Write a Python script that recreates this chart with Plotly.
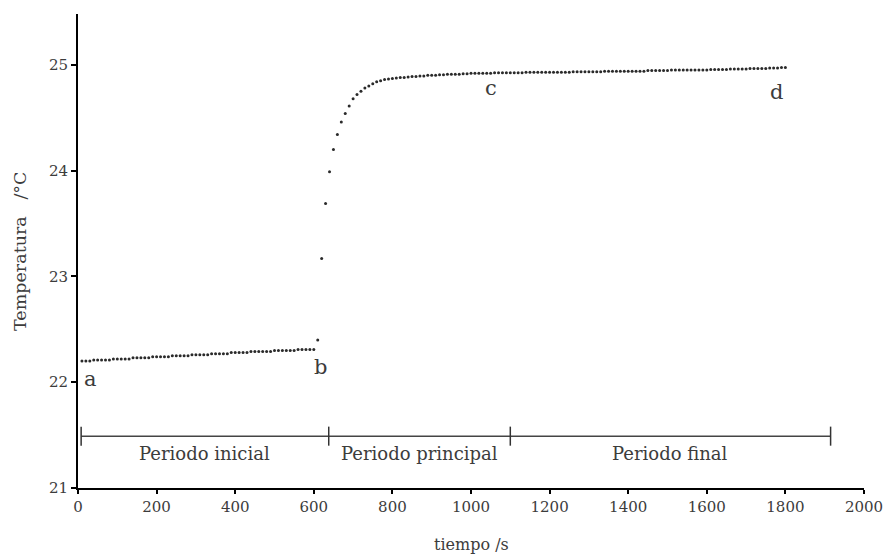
import numpy as np
import plotly.graph_objects as go

# sampling times (s), every 10 s
time_s = np.arange(10, 1810, 10)

temp_initial = [
    22.20, 22.20, 22.20, 22.21, 22.21, 22.21, 22.21, 22.21, 22.22, 22.22,
    22.22, 22.22, 22.22, 22.23, 22.23, 22.23, 22.23, 22.23, 22.24, 22.24,
    22.24, 22.24, 22.24, 22.25, 22.25, 22.25, 22.25, 22.25, 22.26, 22.26,
    22.26, 22.26, 22.26, 22.27, 22.27, 22.27, 22.27, 22.27, 22.28, 22.28,
    22.28, 22.28, 22.28, 22.29, 22.29, 22.29, 22.29, 22.29, 22.29, 22.30,
    22.30, 22.30, 22.30, 22.30, 22.30, 22.31, 22.31, 22.31, 22.31, 22.31,
]
temp_rise = [
    22.40, 23.17, 23.69, 23.99, 24.20, 24.34, 24.46, 24.54, 24.61, 24.68,
    24.72, 24.75, 24.78, 24.80, 24.82, 24.84, 24.85,
]
temp_approach = [
    24.86, 24.865, 24.87, 24.875, 24.88, 24.88, 24.885, 24.89, 24.89, 24.895,
    24.895, 24.90, 24.90, 24.90, 24.905, 24.905, 24.91, 24.91, 24.91, 24.91,
    24.915, 24.915, 24.92,
]
temp_final = [
    24.92, 24.92, 24.92, 24.92, 24.92, 24.925, 24.925, 24.925, 24.925, 24.925,
    24.925, 24.925, 24.925, 24.93, 24.93, 24.93, 24.93, 24.93, 24.93, 24.93,
    24.93, 24.93, 24.93, 24.93, 24.93, 24.935, 24.935, 24.935, 24.935, 24.935,
    24.935, 24.935, 24.935, 24.94, 24.94, 24.94, 24.94, 24.94, 24.94, 24.94,
    24.94, 24.94, 24.94, 24.94, 24.945, 24.945, 24.945, 24.945, 24.945, 24.945,
    24.95, 24.95, 24.95, 24.95, 24.95, 24.95, 24.95, 24.95, 24.95, 24.95,
    24.955, 24.955, 24.955, 24.955, 24.955, 24.96, 24.96, 24.96, 24.96, 24.96,
    24.965, 24.965, 24.965, 24.965, 24.965, 24.97, 24.97, 24.97, 24.975, 24.975,
]
temperature = temp_initial + temp_rise + temp_approach + temp_final

# period boundaries (s) and bar level (°C)
period_bounds = [8, 638, 1100, 1915]
period_names = ["Periodo inicial", "Periodo principal", "Periodo final"]
period_level = 21.49

point_labels = ["a", "b", "c", "d"]
point_label_x = [31, 618, 1051, 1778]
point_label_y = [22.03, 22.14, 24.78, 24.74]

x_ticks = [0, 200, 400, 600, 800, 1000, 1200, 1400, 1600, 1800, 2000]
y_ticks = [21, 22, 23, 24, 25]

FONT = "DejaVu Serif"
TXT = "#3c3c3c"

fig = go.Figure()

fig.add_trace(go.Scatter(
    x=time_s, y=temperature, mode="markers",
    marker=dict(size=3, color="#2a2a2a"),
    showlegend=False, hoverinfo="skip",
))

# period bar
fig.add_trace(go.Scatter(
    x=[period_bounds[0], period_bounds[-1]], y=[period_level, period_level],
    mode="lines", line=dict(color="#444444", width=1.5),
    showlegend=False, hoverinfo="skip",
))
for b in period_bounds:
    fig.add_shape(type="line", x0=b, x1=b, y0=period_level - 0.09,
                  y1=period_level + 0.09, line=dict(color="#333333", width=1.5))

for i, name in enumerate(period_names):
    fig.add_annotation(
        x=(period_bounds[i] + period_bounds[i + 1]) / 2, y=period_level - 0.16,
        text=name, showarrow=False,
        font=dict(family=FONT, size=18, color=TXT),
    )

for lab, lx, ly in zip(point_labels, point_label_x, point_label_y):
    fig.add_annotation(x=lx, y=ly, text=lab, showarrow=False,
                       font=dict(family=FONT, size=21, color=TXT))

# axis titles
fig.add_annotation(x=0.5, y=-0.12, xref="paper", yref="paper", text="tiempo /s",
                   showarrow=False, xanchor="center", yanchor="middle",
                   font=dict(family=FONT, size=16, color=TXT))
fig.add_annotation(x=-0.0738, y=0.5, xref="paper", yref="paper",
                   text="Temperatura\u00a0\u00a0\u00a0/°C", textangle=-90,
                   showarrow=False, xanchor="center", yanchor="middle",
                   font=dict(family=FONT, size=17.5, color=TXT))

fig.update_layout(
    width=887, height=555,
    margin=dict(l=78, r=23, t=14, b=67),
    plot_bgcolor="white", paper_bgcolor="white",
    font=dict(family=FONT, size=15, color=TXT),
)
fig.update_xaxes(
    range=[0, 2000], tickvals=x_ticks, ticktext=[str(v) for v in x_ticks],
    showline=True, linecolor="black", linewidth=2, showgrid=False, zeroline=False,
    ticks="outside", ticklen=4, tickwidth=2, tickcolor="black", automargin=False,
    tickfont=dict(family=FONT, size=15, color=TXT),
)
fig.update_yaxes(
    range=[21, 25.48], tickvals=y_ticks, ticktext=[str(v) for v in y_ticks],
    showline=True, linecolor="black", linewidth=2, showgrid=False, zeroline=False,
    ticks="outside", ticklen=5, tickwidth=2, tickcolor="black", automargin=False,
    tickfont=dict(family=FONT, size=15, color=TXT),
)

fig.write_html("out.html")
